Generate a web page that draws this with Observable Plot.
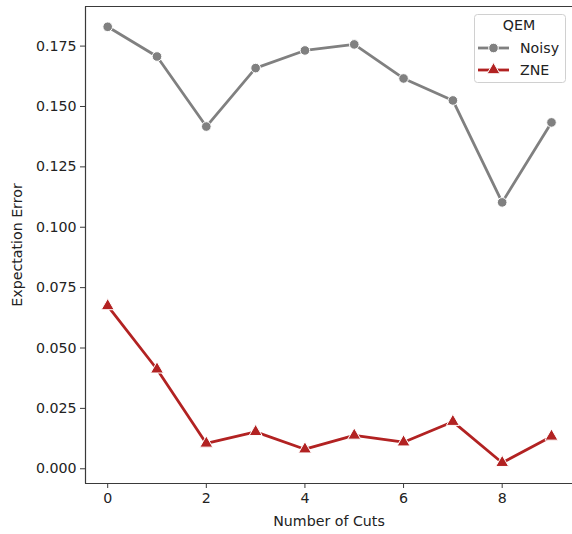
<!DOCTYPE html>
<html><head><meta charset="utf-8">
<script src="https://cdn.jsdelivr.net/npm/d3@7"></script>
<script src="https://cdn.jsdelivr.net/npm/@observablehq/plot@0.6"></script>
<style>
html,body{margin:0;padding:0;background:#fff;overflow:hidden}
#chart{position:relative;width:572px;height:534px;overflow:hidden}
#chart > svg{display:block}
#legend{position:absolute;left:0;top:0;pointer-events:none}
</style>
</head><body><div id="chart"></div>
<script>
const cuts = [0, 1, 2, 3, 4, 5, 6, 7, 8, 9];
const noisy = [0.1830, 0.1707, 0.1417, 0.1659, 0.1732, 0.1757, 0.1616, 0.1525, 0.1103, 0.1434];
const zne = [0.0674, 0.0412, 0.0105, 0.0153, 0.0081, 0.0138, 0.0110, 0.0195, 0.0025, 0.0134];
const series = ["Noisy", "ZNE"];
const colors = ["#808080", "#b22222"];
const symbols = ["circle", "triangle"];
const xTicks = [0, 2, 4, 6, 8];
const yTicks = [0, 0.025, 0.05, 0.075, 0.1, 0.125, 0.15, 0.175];
const xDomain = [-0.45, 9.426];
const yDomain = [-0.0061, 0.1914];
const legendTitle = "QEM";

const data = cuts.flatMap((c, i) => [
  {cuts: c, err: noisy[i], qem: series[0]},
  {cuts: c, err: zne[i], qem: series[1]}
]);

const spine = "#3a3a3a";
const fs = 14.2;
const plot = Plot.plot({
  width: 572, height: 534,
  marginLeft: 85, marginRight: 0, marginTop: 6, marginBottom: 51,
  style: {fontFamily: "DejaVu Sans", fontSize: fs + "px", color: "#222", background: "#fff"},
  x: {domain: xDomain},
  y: {domain: yDomain},
  color: {domain: series, range: colors},
  symbol: {domain: series, range: symbols},
  marks: [
    Plot.axisX({ticks: xTicks, tickSize: 5, tickPadding: 4, stroke: spine, label: "Number of Cuts", labelAnchor: "center", labelArrow: "none", labelOffset: 42, fontSize: fs}),
    Plot.axisY({ticks: yTicks, tickFormat: d3.format(".3f"), tickSize: 5, tickPadding: 4, stroke: spine, label: "Expectation Error", labelAnchor: "center", labelArrow: "none", labelOffset: 74, fontSize: fs}),
    Plot.link([0], {x1: () => xDomain[0], x2: () => xDomain[0], y1: () => yDomain[0], y2: () => yDomain[1], stroke: spine, strokeWidth: 1.2}),
    Plot.ruleY([yDomain[0], yDomain[1]], {stroke: spine, strokeWidth: 1.2}),
    Plot.line(data, {x: "cuts", y: "err", z: "qem", stroke: "qem", strokeWidth: 2.8}),
    Plot.dot(data, {x: "cuts", y: "err", fill: "qem", symbol: "qem", r: 4.8, stroke: "white", strokeWidth: 1, fillOpacity: 1})
  ]
});
const chart = document.getElementById("chart");
chart.appendChild(plot);

// legend inside the axes (matplotlib style, upper right), as a separate overlay
const lsvg = d3.select(chart).append("svg").attr("id", "legend")
  .attr("width", 572).attr("height", 100);
const lg = lsvg.append("g").attr("font-family", "DejaVu Sans").attr("font-size", fs).attr("fill", "#222").attr("text-anchor", "start");
lg.append("rect").attr("x", 474.5).attr("y", 14.5).attr("width", 91).attr("height", 68).attr("rx", 3)
  .attr("fill", "white").attr("fill-opacity", 0.8).attr("stroke", "#d0d0d0");
lg.append("text").attr("x", 519).attr("y", 25).attr("dy", "0.35em").attr("text-anchor", "middle").text(legendTitle);
series.forEach((s, i) => {
  const yy = 48 + i * 22;
  lg.append("line").attr("x1", 478).attr("x2", 509).attr("y1", yy).attr("y2", yy)
    .attr("stroke", colors[i]).attr("stroke-width", 2.8);
  const sym = i === 0 ? d3.symbolCircle : d3.symbolTriangle;
  lg.append("path").attr("d", d3.symbol(sym, Math.PI * 4.8 * 4.8)())
    .attr("transform", `translate(493.5,${yy})`).attr("fill", colors[i]).attr("stroke", "white").attr("stroke-width", 1);
  lg.append("text").attr("x", 520).attr("y", yy).attr("dy", "0.35em").attr("text-anchor", "start").text(s);
});
</script>
</body></html>
